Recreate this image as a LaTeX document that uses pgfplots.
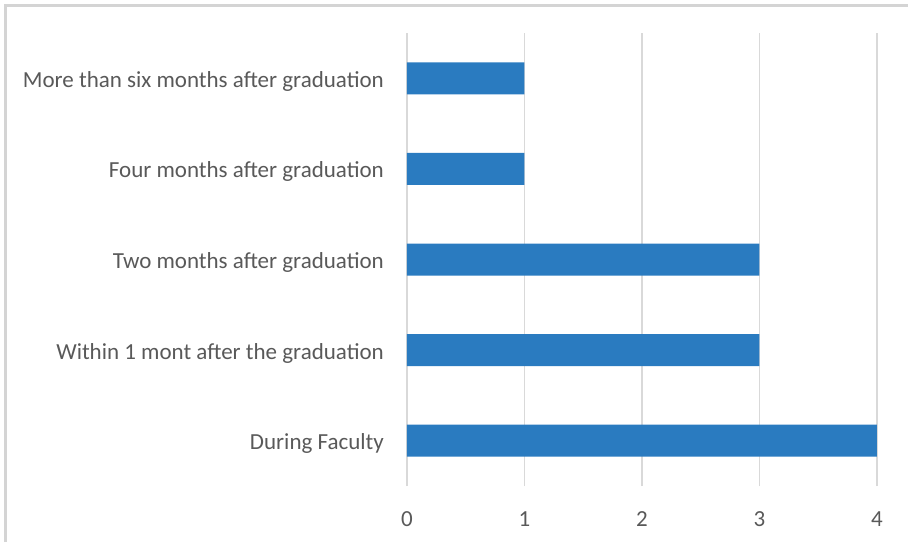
\documentclass[border=0pt]{standalone}
\usepackage{pgfplots}
\pgfplotsset{compat=1.18}
\usepackage{fontspec}
\setmainfont{Carlito}
\definecolor{barblue}{RGB}{42,123,192}
\definecolor{txt}{RGB}{89,89,89}
\definecolor{gridc}{RGB}{217,217,217}
\definecolor{framec}{RGB}{212,212,212}
\begin{document}
\begin{tikzpicture}[x=1pt,y=1pt]
\path[use as bounding box] (0,0) rectangle (908,542);
\draw[framec, line width=2.5pt] (5.5,0) -- (5.5,536.5) -- (908,536.5);
\begin{axis}[
  at={(407pt,56pt)}, anchor=south west,
  scale only axis, width=470pt, height=453pt,
  xmin=0, xmax=4, ymin=-0.5, ymax=4.5,
  xbar, bar width=32pt,
  axis line style={draw=none},
  xtick={0,1,2,3,4},
  ytick={0,1,2,3,4},
  yticklabels={During Faculty, Within 1 mont after the graduation, Two months after graduation, Four months after graduation, More than six months after graduation},
  xmajorgrids, grid style={gridc, line width=1.5pt},
  major tick length=0pt,
  tick label style={font=\fontsize{23}{26}\selectfont, text=txt},
  /pgf/number format/assume math mode=true,
  xticklabel style={anchor=base, yshift=-40pt},
  yticklabel style={anchor=east, xshift=-23pt, yshift=-3pt, inner sep=0pt},
  clip=false,
]
\addplot[fill=barblue, draw=none] coordinates {(4,0) (3,1) (3,2) (1,3) (1,4)};
\end{axis}
\end{tikzpicture}
\end{document}
